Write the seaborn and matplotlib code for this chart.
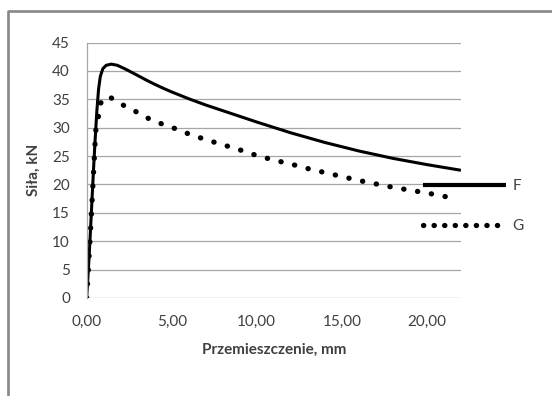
import matplotlib
matplotlib.use("Agg")
import matplotlib.pyplot as plt
import seaborn as sns
from matplotlib.lines import Line2D

# data
f_x = [0, 0.1, 0.2, 0.3, 0.4, 0.5, 0.6, 0.7, 0.8, 0.95, 1.15, 1.45, 1.8, 2.3,
       3.0, 3.5, 4.0, 4.5, 5.0, 6.0, 7.0, 8.0, 9.0, 10.0, 12.0, 14.0, 16.0, 18.0,
       20.0, 22.0]
f_y = [0, 5, 10.5, 16.5, 22.5, 28, 33, 36.8, 39, 40.4, 41.0, 41.2, 41.0, 40.3,
       39.2, 38.4, 37.65, 36.95, 36.3, 35.1, 34.0, 33.0, 32.0, 31.0, 29.1, 27.4,
       25.9, 24.6, 23.5, 22.5]

g_x = [0, 0.1, 0.3, 0.53, 0.68, 0.8, 1.0, 1.31, 2.0, 2.8, 3.5, 4.3, 5.15, 6.0,
       7.0, 8.0, 9.0, 10.0, 11.0, 12.0, 13.0, 14.0, 15.0, 16.0, 17.0, 18.0,
       19.0, 20.0, 21.2]
g_y = [0, 5, 16, 29.4, 31.8, 34.2, 35.2, 35.5, 34.2, 33.0, 31.8, 30.8, 29.9, 28.9,
       27.9, 27.0, 26.1, 25.1, 24.3, 23.6, 22.8, 22.1, 21.4, 20.7, 20.1, 19.5,
       19.0, 18.5, 17.8]

y_ticks = [0, 5, 10, 15, 20, 25, 30, 35, 40, 45]
x_ticks = [0, 5, 10, 15, 20]
x_labels = ["0,00", "5,00", "10,00", "15,00", "20,00"]

sns.set_style("white")
plt.rcParams["font.family"] = ["Lato", "DejaVu Sans"]

fig = plt.figure(figsize=(5.52, 3.96), dpi=100)
ax = fig.add_axes([0.157, 0.2475, 0.678, 0.645])

sns.lineplot(x=f_x, y=f_y, ax=ax, color="black", linewidth=2.2, sort=False,
             estimator=None, label="F", solid_capstyle="butt",
             solid_joinstyle="round")
sns.lineplot(x=g_x, y=g_y, ax=ax, color="black", linewidth=3.8, sort=False,
             estimator=None, label="G", linestyle=(0, (0.05, 2.6)),
             dash_capstyle="round")

ax.set_xlim(0, 22)
ax.set_ylim(0, 45)
ax.set_yticks(y_ticks)
ax.set_xticks(x_ticks)
ax.set_xticklabels(x_labels)
ax.tick_params(length=0, labelsize=11, colors="#404040", pad=12)
ax.yaxis.grid(True, color="#a6a6a6", linewidth=0.9)
ax.xaxis.grid(False)
for s in ["top", "right", "bottom"]:
    ax.spines[s].set_visible(False)
ax.spines["left"].set_color("#a6a6a6")
ax.spines["left"].set_linewidth(0.9)
ax.set_axisbelow(True)

ax.set_xlabel("Przemieszczenie, mm", fontsize=11, fontweight="bold",
              color="#404040", labelpad=10)
ax.set_ylabel("Siła, kN", fontsize=11, fontweight="bold", color="#404040",
              labelpad=8)

handles = [Line2D([], [], color="black", linewidth=3.0, solid_capstyle="butt"),
           Line2D([], [], color="black", linewidth=3.8, linestyle=(0, (0.05, 1.95)),
                  dash_capstyle="round")]
leg = ax.legend(handles, ["F", "G"], loc="upper left",
                bbox_to_anchor=(423 / 552, (396 - 179) / 396),
                bbox_transform=fig.transFigure, frameon=False, fontsize=11,
                handlelength=5.4, handletextpad=0.45, labelspacing=1.7,
                borderpad=0, borderaxespad=0)
for t in leg.get_texts():
    t.set_color("#404040")

# grey chart-area border (only left and top edges visible in the crop)
fig.add_artist(Line2D([7.5 / 552, 7.5 / 552, 1.0], [0.0, 1 - 10.5 / 396, 1 - 10.5 / 396],
                      transform=fig.transFigure, color="#878787", linewidth=1.9))

fig.savefig("out.png", dpi=100)
